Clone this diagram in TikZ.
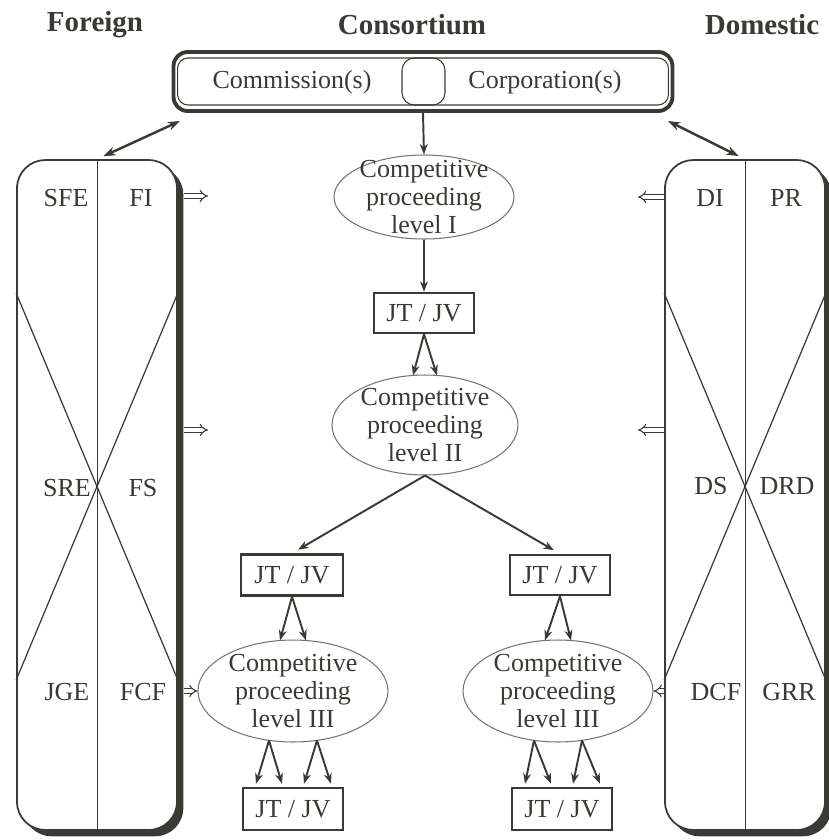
\documentclass[tikz,border=0pt]{standalone}
\usepackage{fontspec}
\setmainfont{Liberation Serif}
\usetikzlibrary{arrows.meta,shapes.geometric,shadows,calc}
\definecolor{ink}{RGB}{58,58,52}
\tikzset{
  txt/.style={font=\fontsize{14.8}{16.2}\selectfont,text=ink,align=center},
  head/.style={font=\fontsize{16.5}{19}\selectfont\bfseries,text=ink},
  proc/.style={ellipse,draw=ink!70,line width=0.6pt,inner sep=0pt},
  jtbox/.style={rectangle,draw=ink,line width=1.4pt,minimum width=2cm,minimum height=0.8cm,inner sep=0pt,txt},
  sidebox/.style={rectangle,rounded corners=16pt,draw=ink,line width=1pt,fill=white,minimum width=3.2cm,minimum height=13.4cm,
    drop shadow={shadow xshift=3.6pt,shadow yshift=-3.6pt,fill=ink,opacity=1}},
  arr/.style={draw=ink,line width=1.1pt,-{Stealth[length=6pt,width=4.5pt]}},
  biarr/.style={draw=ink,line width=1.4pt,{Stealth[length=7pt,width=5pt]}-{Stealth[length=7pt,width=5pt]}},
  feed/.style={draw=ink,double,double distance=1.8pt,line width=0.6pt,-{Implies}},
}
\begin{document}
\begin{tikzpicture}[x=0.02cm,y=-0.02cm]
	\useasboundingbox (0,0) rectangle (829,840);

	\node[head] (hfor) at (95,25) {Foreign};
	\node[head] (hcon) at (412,25) {Consortium};
	\node[head] (hdom) at (762,25) {Domestic};

	\node[draw=ink,line width=2.2pt,rounded corners=8pt,minimum width=9.98cm,minimum height=1.18cm] (cons) at (423,81.5) {};
	\node[draw=ink,line width=0.6pt,rounded corners=6pt,minimum width=9.82cm,minimum height=0.94cm] (consin) at (cons) {};
	\node[draw=ink,line width=0.6pt,rounded corners=7pt,minimum width=0.86cm,minimum height=0.94cm] (consmid) at (423.5,81.5) {};
	\node[txt] (comm) at (292,82) {Commission(s)};
	\node[txt] (corp) at (545,82) {Corporation(s)};

	\node[sidebox] (fbox) at (97,495) {};
	\draw[ink,line width=0.5pt] (fbox.north) -- (fbox.south);
	\draw[ink,line width=0.7pt] (fbox.west |- 0,293) -- (fbox.east |- 0,680) (fbox.east |- 0,293) -- (fbox.west |- 0,680);
	\node[txt] (sfe) at (66,198) {SFE};
	\node[txt] (fi) at (141,198) {FI};
	\node[txt] (sre) at (67,488) {SRE};
	\node[txt] (fs) at (143,488) {FS};
	\node[txt] (jge) at (67,692) {JGE};
	\node[txt] (fcf) at (143,692) {FCF};

	\node[sidebox] (dbox) at (745,495) {};
	\draw[ink,line width=0.5pt] (dbox.north) -- (dbox.south);
	\draw[ink,line width=0.7pt] (dbox.west |- 0,293) -- (dbox.east |- 0,680) (dbox.east |- 0,293) -- (dbox.west |- 0,680);
	\node[txt] (di) at (710,198) {DI};
	\node[txt] (pr) at (786,198) {PR};
	\node[txt] (ds) at (711,486) {DS};
	\node[txt] (drd) at (787,486) {DRD};
	\node[txt] (dcf) at (716,692) {DCF};
	\node[txt] (grr) at (789,692) {GRR};

	\node[proc,minimum width=3.6cm,minimum height=1.68cm,label={[txt]center:Competitive\\proceeding\\level I}] (proc1) at (424,197) {};
	\node[jtbox] (jt1) at (424,313) {JT / JV};
	\node[proc,minimum width=3.72cm,minimum height=2cm,label={[txt]center:Competitive\\proceeding\\level II}] (proc2) at (425,425) {};
	\node[jtbox,minimum width=2.04cm,minimum height=0.82cm] (jt2l) at (292,575) {JT / JV};
	\node[jtbox] (jt2r) at (560,575) {JT / JV};
	\node[proc,minimum width=3.8cm,minimum height=2.04cm,label={[txt]center:Competitive\\proceeding\\level III}] (proc3l) at (293,691) {};
	\node[proc,minimum width=3.8cm,minimum height=2.04cm,label={[txt]center:Competitive\\proceeding\\level III}] (proc3r) at (558,691) {};
	\node[jtbox,minimum height=0.84cm] (jt3l) at (293,809) {JT / JV};
	\node[jtbox,minimum height=0.84cm] (jt3r) at (562,809) {JT / JV};

	\coordinate (fl) at (180,121);
	\coordinate (dl) at (668,121);
	\draw[biarr,shorten >=4pt] (fl) -- (fbox.north);
	\draw[biarr,shorten >=4pt] (dl) -- (dbox.north);

	\coordinate (f1) at (208,196);
	\coordinate (f2) at (208,430);
	\coordinate (d1) at (638,197);
	\coordinate (d2) at (638,430);
	\draw[feed,shorten <=3.6pt] (fbox.east |- f1) -- (f1);
	\draw[feed,shorten <=3.6pt] (fbox.east |- f2) -- (f2);
	\draw[feed,shorten <=3.6pt] (fbox.east |- proc3l.west) -- (proc3l.west);
	\draw[feed] (dbox.west |- d1) -- (d1);
	\draw[feed] (dbox.west |- d2) -- (d2);
	\draw[feed] (dbox.west |- proc3r.east) -- (proc3r.east);

	\draw[arr] (cons.south) -- (proc1.north);
	\draw[arr] (proc1.south) -- (jt1.north);
	\draw[arr] (jt1.south) -- ($(proc2.north)+(-12,1)$);
	\draw[arr] (jt1.south) -- ($(proc2.north)+(12,1)$);
	\draw[arr,shorten >=4pt] (proc2.south) -- (jt2l.north);
	\draw[arr,shorten >=4pt] (proc2.south) -- (jt2r.north);
	\draw[arr] (jt2l.south) -- ($(proc3l.north)+(-13,1)$);
	\draw[arr] (jt2l.south) -- ($(proc3l.north)+(13,1)$);
	\draw[arr] (jt2r.south) -- ($(proc3r.north)+(-13,1)$);
	\draw[arr] (jt2r.south) -- ($(proc3r.north)+(13,1)$);
	\foreach \a/\b in {-24/-37,-24/-11,24/11,24/38} {
		\draw[arr] ($(proc3l.south)+(\a,-2)$) -- ($(jt3l.north)+(\b,-3)$);
		\draw[arr] ($(proc3r.south)+(\a,-2)$) -- ($(jt3r.north)+(\b,-3)$);
	}
\end{tikzpicture}
\end{document}
